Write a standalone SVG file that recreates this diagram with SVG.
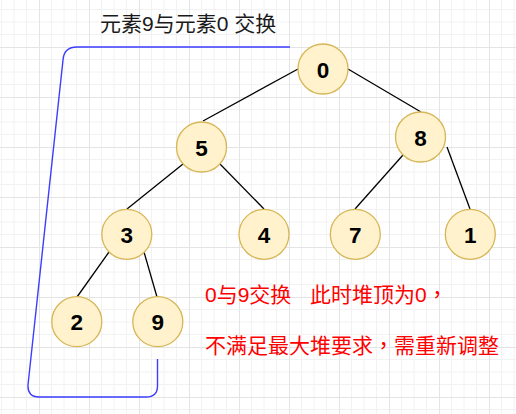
<svg xmlns="http://www.w3.org/2000/svg" width="516" height="414" viewBox="0 0 516 414">
  <defs>
    <pattern id="grid" width="50" height="50" patternUnits="userSpaceOnUse" x="39" y="47">
      <path d="M12.5 0V50M25 0V50M37.5 0V50M0 12.5H50M0 25H50M0 37.5H50" stroke="#f2f2f2" stroke-width="1" fill="none"/>
      <path d="M0.5 0V50M0 0.5H50" stroke="#e4e4e4" stroke-width="1" fill="none"/>
    </pattern>
    <style>
      .node circle { fill: #fff2cc; stroke: #d6b656; stroke-width: 1.3; }
      .node text { font-family: "Liberation Sans", Arial, sans-serif; font-weight: bold; font-size: 22.5px; fill: #000; text-anchor: middle; }
      .edge { stroke: #000; stroke-width: 1.3; fill: none; }
      .blue { stroke: #3d3dff; stroke-width: 1.4; fill: none; }
      .cjk { font-family: "Liberation Sans", "Noto Sans CJK SC", sans-serif; font-size: 21px; }
      .tc { font-family: "Noto Sans CJK TC", sans-serif; }
    </style>
  </defs>
  <rect width="516" height="414" fill="#ffffff"/>
  <rect width="516" height="414" fill="url(#grid)"/>

  <g id="connectors">
    <line class="edge" x1="298" y1="69" x2="203" y2="121"/>
    <line class="edge" x1="348" y1="69" x2="421" y2="112"/>
    <line class="edge" x1="403" y1="155" x2="355" y2="209"/>
    <line class="edge" x1="447" y1="147" x2="470" y2="209"/>
    <line class="edge" x1="183" y1="164" x2="127" y2="209"/>
    <line class="edge" x1="220" y1="164" x2="264" y2="209"/>
    <line class="edge" x1="109" y1="252" x2="77" y2="297"/>
    <line class="edge" x1="144" y1="252" x2="157" y2="297"/>
    <path id="swap-link" class="blue" d="M290 47 L77 47 Q64 47 63 60 L28 385 Q27.5 397 39 397 L146 397 Q157.5 397 157.5 386 L157.5 359"/>
  </g>

  <g id="node-0" class="node"><circle cx="323" cy="69" r="25"/><text x="323" y="77.5">0</text></g>
  <g id="node-5" class="node"><circle cx="201.5" cy="147" r="25"/><text x="201.5" y="155.5">5</text></g>
  <g id="node-8" class="node"><circle cx="420.5" cy="137" r="25"/><text x="420.5" y="145.5">8</text></g>
  <g id="node-3" class="node"><circle cx="126.8" cy="234.3" r="25"/><text x="126.8" y="242.8">3</text></g>
  <g id="node-4" class="node"><circle cx="264" cy="234.3" r="25"/><text x="264" y="242.8">4</text></g>
  <g id="node-7" class="node"><circle cx="355.3" cy="234.3" r="25"/><text x="355.3" y="242.8">7</text></g>
  <g id="node-1" class="node"><circle cx="470.3" cy="234.3" r="25"/><text x="470.3" y="242.8">1</text></g>
  <g id="node-2" class="node"><circle cx="76.8" cy="321.7" r="25"/><text x="76.8" y="330.2">2</text></g>
  <g id="node-9" class="node"><circle cx="157.8" cy="321.7" r="25"/><text x="157.8" y="330.2">9</text></g>

  <g id="label-title">
    <text class="cjk" x="100" y="31" fill="#1a1a1a">元素9与元素0 交换</text>
  </g>
  <g id="label-note" class="cjk" fill="#ff0000">
    <text x="205" y="302">0与9交换<tspan x="310">此时堆顶为0</tspan><tspan class="tc" xml:lang="zh-Hant-TW">，</tspan></text>
    <text x="205" y="353">不满足最大堆要求<tspan class="tc" xml:lang="zh-Hant-TW">，</tspan>需重新调整</text>
  </g>
</svg>
